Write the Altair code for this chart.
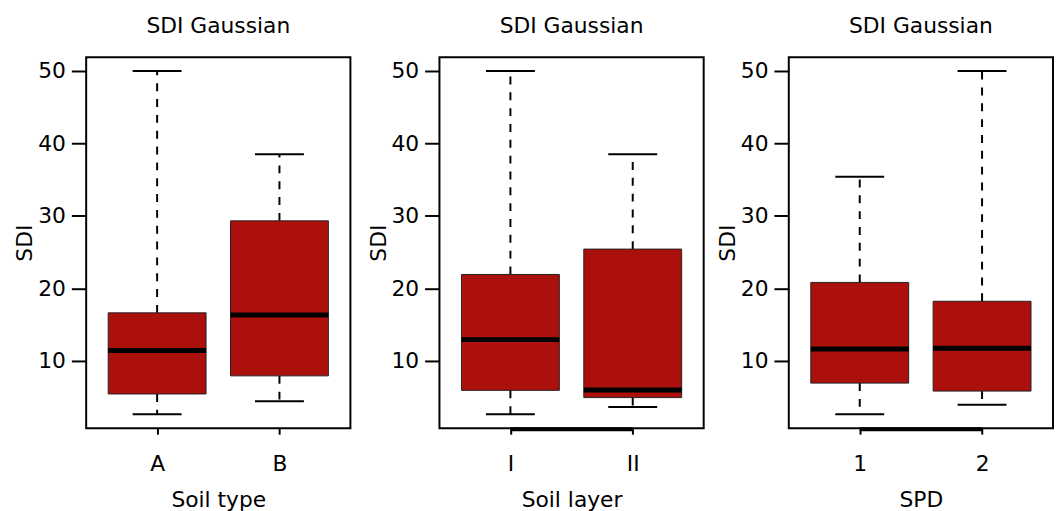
import altair as alt
import pandas as pd

# ---- data ----
panel_titles = ["SDI Gaussian", "SDI Gaussian", "SDI Gaussian"]
x_titles = ["Soil type", "Soil layer", "SPD"]

soil_type_cats = ["A", "B"]
soil_type_lower = [2.6, 4.4]
soil_type_q1 = [5.4, 7.9]
soil_type_median = [11.4, 16.3]
soil_type_q3 = [16.6, 29.3]
soil_type_upper = [50.0, 38.5]

soil_layer_cats = ["I", "II"]
soil_layer_lower = [2.6, 3.6]
soil_layer_q1 = [5.9, 4.9]
soil_layer_median = [12.9, 5.95]
soil_layer_q3 = [21.9, 25.4]
soil_layer_upper = [50.0, 38.5]

spd_cats = ["1", "2"]
spd_lower = [2.6, 3.9]
spd_q1 = [6.9, 5.8]
spd_median = [11.6, 11.7]
spd_q3 = [20.8, 18.2]
spd_upper = [35.4, 50.0]

y_ticks = [10, 20, 30, 40, 50]
y_domain = [0.67, 51.9]

FONT = "DejaVu Sans"
FS = 22
BOX_FILL = "#AC100C"


def panel(cats, lower, q1, med, q3, upper, title, xtitle, bottom_line):
    n = len(cats)
    df = pd.DataFrame({
        "pos": list(range(1, n + 1)),
        "cat": cats,
        "lower": lower, "q1": q1, "median": med, "q3": q3, "upper": upper,
    })
    label_expr = "[" + ",".join("'%s'" % c for c in cats) + "][datum.value - 1]"
    xs = alt.Scale(domain=[0.42, n + 0.58], nice=False, zero=False)
    ys = alt.Scale(domain=y_domain, nice=False, zero=False)
    xaxis = alt.Axis(values=list(range(1, n + 1)), labelExpr=label_expr, title=xtitle,
                     grid=False, domain=False, tickSize=6, tickWidth=2, tickColor="black",
                     labelPadding=20, titlePadding=15, labelFont=FONT, titleFont=FONT,
                     labelFontSize=FS, titleFontSize=FS, titleFontWeight="normal",
                     labelColor="black", titleColor="black", labelAngle=0)
    yaxis = alt.Axis(values=y_ticks, title="SDI", grid=False, domain=False,
                     tickSize=15, tickWidth=2, tickColor="black", labelPadding=6,
                     titlePadding=1, labelFont=FONT, titleFont=FONT, labelFontSize=FS,
                     titleFontSize=FS, titleFontWeight="normal", labelColor="black",
                     titleColor="black")
    base = alt.Chart(df).transform_calculate(
        box_l="datum.pos - 0.4", box_r="datum.pos + 0.4",
        cap_l="datum.pos - 0.2", cap_r="datum.pos + 0.2",
    )
    up_wh = base.mark_rule(strokeDash=[8, 8], strokeWidth=2, color="black").encode(
        x=alt.X("pos:Q", scale=xs, axis=xaxis),
        y=alt.Y("q3:Q", scale=ys, axis=yaxis), y2="upper:Q")
    lo_wh = base.mark_rule(strokeDash=[8, 8], strokeWidth=2, color="black").encode(
        x="pos:Q", y="q1:Q", y2="lower:Q")
    up_cap = base.mark_rule(strokeWidth=2, color="black").encode(
        x="cap_l:Q", x2="cap_r:Q", y="upper:Q")
    lo_cap = base.mark_rule(strokeWidth=2, color="black").encode(
        x="cap_l:Q", x2="cap_r:Q", y="lower:Q")
    box = base.mark_rect(fill=BOX_FILL, stroke="#222222", strokeWidth=1).encode(
        x="box_l:Q", x2="box_r:Q", y="q1:Q", y2="q3:Q")
    med_l = base.mark_rule(strokeWidth=5, color="black").encode(
        x="box_l:Q", x2="box_r:Q", y="median:Q")
    layers = [up_wh, lo_wh, up_cap, lo_cap, box, med_l]
    if bottom_line:
        bl = alt.Chart(pd.DataFrame({"a": [1], "b": [n], "y": [y_domain[0]]})).mark_rule(
            strokeWidth=4, color="black", yOffset=1).encode(
            x="a:Q", x2="b:Q", y="y:Q")
        layers.append(bl)
    return alt.layer(*layers).properties(
        width=267, height=375,
        title=alt.Title(title, font=FONT, fontSize=FS, fontWeight="normal",
                        color="black", anchor="middle", frame="group",
                        baseline="bottom", offset=-3),
    )


p1 = panel(soil_type_cats, soil_type_lower, soil_type_q1, soil_type_median,
           soil_type_q3, soil_type_upper, panel_titles[0], x_titles[0], False)
p2 = panel(soil_layer_cats, soil_layer_lower, soil_layer_q1, soil_layer_median,
           soil_layer_q3, soil_layer_upper, panel_titles[1], x_titles[1], True)
p3 = panel(spd_cats, spd_lower, spd_q1, spd_median, spd_q3, spd_upper,
           panel_titles[2], x_titles[2], True)

inner = alt.hconcat(p1, p2, spacing=15)
chart = alt.hconcat(inner, p3, spacing=11).properties(
    padding={"left": 5, "top": 4, "right": 0, "bottom": 0}
).configure(
    background="white",
    view=alt.ViewConfig(stroke="black", strokeWidth=2),
)

chart.save("out.html", embed_options={"renderer": "svg", "actions": False})
